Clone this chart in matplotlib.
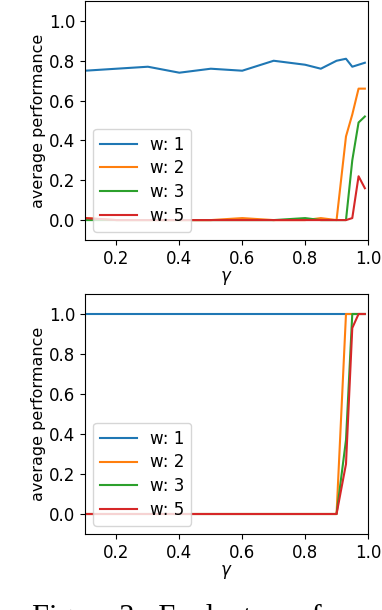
import matplotlib
matplotlib.use("Agg")
import matplotlib.pyplot as plt

gamma = [0.1, 0.2, 0.3, 0.4, 0.5, 0.6, 0.7, 0.8, 0.85, 0.9, 0.93, 0.95, 0.97, 0.99]

# top panel
top_w1 = [0.75, 0.76, 0.77, 0.74, 0.76, 0.75, 0.80, 0.78, 0.76, 0.80, 0.81, 0.77, 0.78, 0.79]
top_w2 = [0.01, 0.0, 0.0, 0.0, 0.0, 0.01, 0.0, 0.0, 0.01, 0.0, 0.42, 0.53, 0.66, 0.66]
top_w3 = [0.0, 0.0, 0.0, 0.0, 0.0, 0.0, 0.0, 0.01, 0.0, 0.0, 0.0, 0.30, 0.49, 0.52]
top_w5 = [0.01, 0.0, 0.0, 0.0, 0.0, 0.0, 0.0, 0.0, 0.0, 0.0, 0.0, 0.01, 0.22, 0.16]

# bottom panel
bot_w1 = [1.0] * 14
bot_w2 = [0.0, 0.0, 0.0, 0.0, 0.0, 0.0, 0.0, 0.0, 0.0, 0.0, 1.0, 1.0, 1.0, 1.0]
bot_w3 = [0.0, 0.0, 0.0, 0.0, 0.0, 0.0, 0.0, 0.0, 0.0, 0.0, 0.37, 1.0, 1.0, 1.0]
bot_w5 = [0.0, 0.0, 0.0, 0.0, 0.0, 0.0, 0.0, 0.0, 0.0, 0.0, 0.25, 0.93, 1.0, 1.0]

labels = ["w: 1", "w: 2", "w: 3", "w: 5"]
colors = ["#1f77b4", "#ff7f0e", "#2ca02c", "#d62728"]

W, H = 382, 610
fig = plt.figure(figsize=(W / 100, H / 100), dpi=100)

def px_axes(left, top, right, bottom):
    return fig.add_axes([left / W, 1 - bottom / H, (right - left) / W, (bottom - top) / H])

ax1 = px_axes(85, 1, 368, 240)
ax2 = px_axes(85, 294, 368, 534)

for ax, series in [(ax1, [top_w1, top_w2, top_w3, top_w5]),
                   (ax2, [bot_w1, bot_w2, bot_w3, bot_w5])]:
    for s, lab, c in zip(series, labels, colors):
        ax.plot(gamma, s, color=c, label=lab, lw=1.5)
    ax.set_xlim(0.1, 1.0)
    ax.set_ylim(-0.1, 1.1)
    ax.set_xticks([0.2, 0.4, 0.6, 0.8, 1.0])
    ax.set_yticks([0.0, 0.2, 0.4, 0.6, 0.8, 1.0])
    ax.tick_params(labelsize=12)
    ax.set_xlabel(r"$\gamma$", fontsize=12, labelpad=1)
    ax.set_ylabel("average performance", fontsize=11.5, labelpad=2)
    ax.legend(loc="lower left", fontsize=12, handlelength=2.2,
              borderaxespad=0.5, labelspacing=0.35)

fig.text(32 / W, 1 - 604 / H, "Figure 3:  Evaluate performance",
         fontsize=22, family=["Liberation Serif", "DejaVu Serif"],
         va="top", ha="left")

fig.savefig("out.png", dpi=100)
